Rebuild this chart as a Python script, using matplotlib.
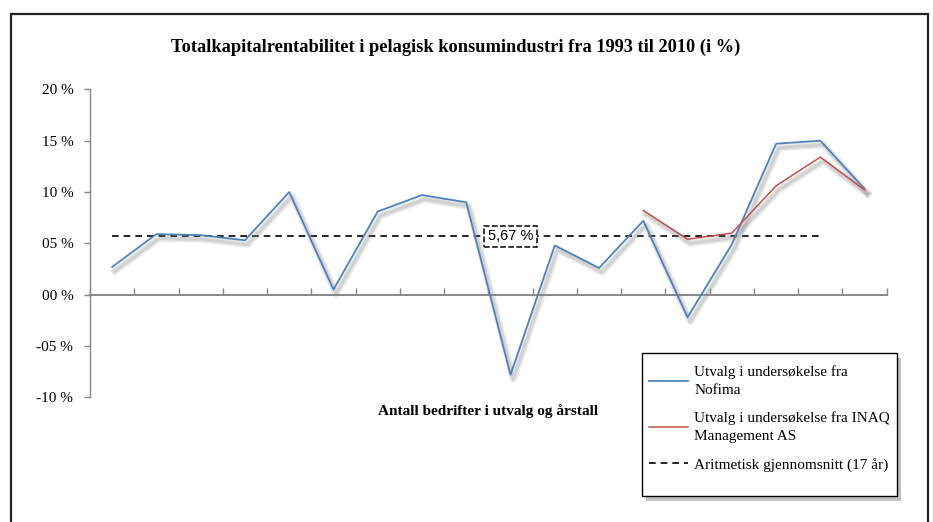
import matplotlib.pyplot as plt
import matplotlib.patheffects as pe
from matplotlib.lines import Line2D
from matplotlib.patches import Rectangle
import numpy as np

years = list(range(1993, 2011))
nofima = [2.7, 5.9, 5.8, 5.3, 10.0, 0.5, 8.1, 9.7, 9.0, -7.8,
          4.8, 2.6, 7.2, -2.2, 4.9, 14.7, 15.0, 10.3]
inaq_years = [2005, 2006, 2007, 2008, 2009, 2010]
inaq = [8.2, 5.4, 6.0, 10.6, 13.4, 10.2]
avg_value = 5.67
avg_years = list(range(1993, 2010))
y_ticks = [-10, -5, 0, 5, 10, 15, 20]

blue = "#4F81BD"
red = "#C0504D"
serif = "Liberation Serif"

fig = plt.figure(figsize=(9.33, 5.22), dpi=100)
ax = fig.add_axes([0.0965, 0.2387, 0.8539, 0.5902])

x_all = np.arange(len(years))
x_inaq = np.array([years.index(y) for y in inaq_years])
x_avg = np.array([years.index(y) for y in avg_years])

shadow = [pe.SimpleLineShadow(offset=(2, -3), shadow_color="#888888", alpha=0.18, linewidth=5),
          pe.SimpleLineShadow(offset=(2, -3), shadow_color="#777777", alpha=0.2, linewidth=2.5),
          pe.Normal()]

ax.plot(x_all, nofima, color=blue, lw=1.3, path_effects=shadow, zorder=3)
ax.plot(x_inaq, inaq, color=red, lw=1.1, path_effects=shadow, zorder=4)
ax.plot(x_avg, [avg_value] * len(x_avg), color="black", lw=1.2, ls=(0, (4, 3)), zorder=2)

ax.text(9, avg_value, "5,67 %", ha="center", va="center", fontsize=10.5,
        family="Liberation Sans", zorder=5,
        bbox=dict(boxstyle="square,pad=0.25", fc="white", ec="black", ls="--", lw=1.1))

ax.set_xlim(-0.5, len(years) - 0.5)
ax.set_ylim(-10, 20)
ax.set_xticks(np.arange(-0.5, len(years), 1.0))
ax.set_xticklabels([])
ax.tick_params(axis="x", direction="in", length=5, color="#888888", width=1)
ax.set_yticks(y_ticks)
ax.set_yticklabels([("-" if v < 0 else "") + f"{abs(v):02d} %" for v in y_ticks],
                   family=serif, fontsize=11)
ax.tick_params(axis="y", direction="out", length=4, color="#888888", width=1, pad=8)

for s in ["top", "right"]:
    ax.spines[s].set_visible(False)
ax.spines["bottom"].set_position(("data", 0))
ax.spines["bottom"].set_color("#888888")
ax.spines["left"].set_color("#888888")
ax.spines["bottom"].set_linewidth(1.4)
ax.spines["left"].set_linewidth(1)

fig.text(456 / 933, 1 - 47 / 522, "Totalkapitalrentabilitet i pelagisk konsumindustri fra 1993 til 2010 (i %)",
         ha="center", va="center", family=serif, fontweight="bold", fontsize=13.2)
fig.text(488.5 / 933, 1 - 410.7 / 522, "Antall bedrifter i utvalg og årstall",
         ha="center", va="center", family=serif, fontweight="bold", fontsize=11)

# legend box (frame drawn by hand to get the same padding as the original)
lx0, ly0, lx1, ly1 = 641.7, 352.7, 896.7, 495.7
fig.patches.append(Rectangle(((lx0 + 4) / 933, 1 - (ly1 + 5) / 522), (lx1 - lx0) / 933, (ly1 - ly0) / 522,
                             transform=fig.transFigure, fc="#999999", ec="none", alpha=0.6, zorder=5))
fig.patches.append(Rectangle((lx0 / 933, 1 - ly1 / 522), (lx1 - lx0) / 933, (ly1 - ly0) / 522,
                             transform=fig.transFigure, fc="white", ec="black", lw=1.0, zorder=6))

handles = [Line2D([], [], color=blue, lw=1.3),
           Line2D([], [], color=red, lw=1.1),
           Line2D([], [], color="black", lw=1.2, ls=(0, (4, 3)))]
labels = ["Utvalg i undersøkelse fra\nNofima",
          "Utvalg i undersøkelse fra INAQ\nManagement AS",
          "Aritmetisk gjennomsnitt (17 år)"]
leg = fig.legend(handles, labels, loc="upper left", bbox_to_anchor=(lx0 / 933, 1 - (ly0 + 5) / 522),
                 prop={"family": serif, "size": 11}, frameon=False,
                 handlelength=2.55, handletextpad=0.4, labelspacing=0.95, borderpad=0.5,
                 borderaxespad=0)
for t in leg.get_texts():
    t.set_linespacing(1.5)
leg.set_zorder(7)

fig.patches.append(Rectangle((11 / 933, -0.1), (928 - 11) / 933, 1.1 - 14 / 522,
                             transform=fig.transFigure, fill=False, ec="#222222", lw=1.6))

fig.savefig("out.png", dpi=100)
